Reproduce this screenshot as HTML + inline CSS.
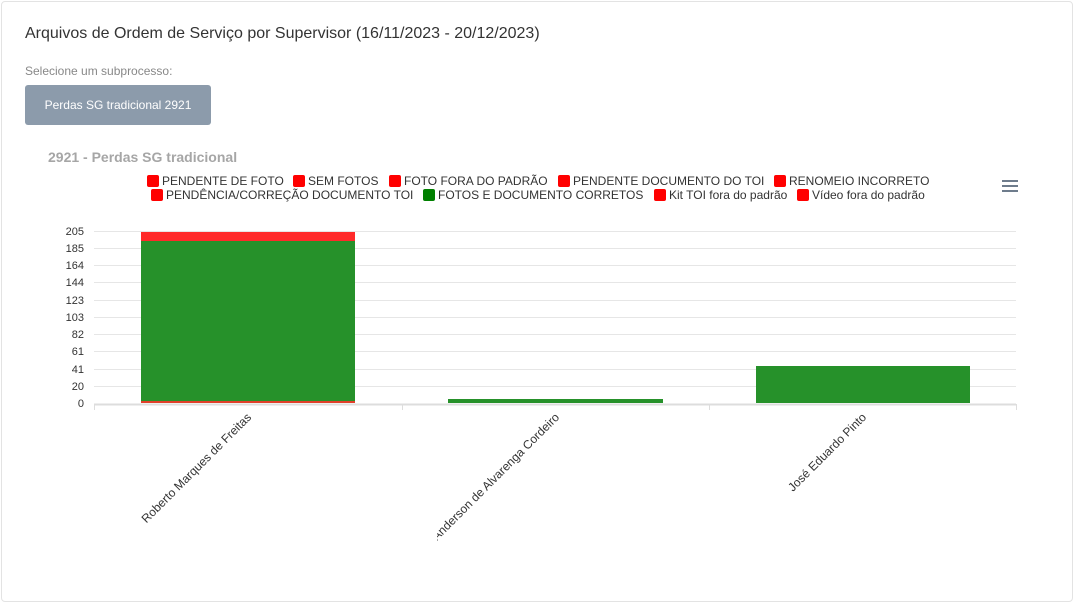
<!DOCTYPE html>
<html><head><meta charset="utf-8"><style>
body{margin:0;width:1076px;height:605px;background:#fff;font-family:"Liberation Sans",sans-serif;overflow:hidden}
.card{position:absolute;left:1px;top:1px;width:1072px;height:601px;border:1px solid #e3e3e3;border-radius:4px;box-sizing:border-box}
.t{position:absolute;left:25px;top:25px;font-size:16px;color:#333}
.s{position:absolute;left:25px;top:64px;font-size:12px;color:#888}
.b{position:absolute;left:25px;top:85px;width:186px;height:40px;background:#8c9bab;border-radius:3px;color:#fff;font-size:12px;line-height:40px;text-align:center}
svg{position:absolute;left:0;top:0}
</style></head><body>
<div class="card"></div>
<div class="t">Arquivos de Ordem de Serviço por Supervisor (16/11/2023 - 20/12/2023)</div>
<div class="s">Selecione um subprocesso:</div>
<div class="b">Perdas SG tradicional 2921</div>
<svg width="1076" height="605" font-family="Liberation Sans,sans-serif">
<defs><clipPath id="c2"><rect x="437" y="400" width="300" height="200"/></clipPath></defs>
<text x="48" y="162" font-size="14" font-weight="bold" fill="#a6a6a6">2921 - Perdas SG tradicional</text>
<g font-size="12" fill="#333">
<rect x="147" y="175" width="12" height="12" rx="2" fill="#f00"/><text x="162" y="185">PENDENTE DE FOTO</text>
<rect x="293" y="175" width="12" height="12" rx="2" fill="#f00"/><text x="308" y="185">SEM FOTOS</text>
<rect x="389" y="175" width="12" height="12" rx="2" fill="#f00"/><text x="404" y="185">FOTO FORA DO PADRÃO</text>
<rect x="558" y="175" width="12" height="12" rx="2" fill="#f00"/><text x="573" y="185">PENDENTE DOCUMENTO DO TOI</text>
<rect x="774" y="175" width="12" height="12" rx="2" fill="#f00"/><text x="789" y="185">RENOMEIO INCORRETO</text>
<rect x="151" y="189" width="12" height="12" rx="2" fill="#f00"/><text x="166" y="199">PENDÊNCIA/CORREÇÃO DOCUMENTO TOI</text>
<rect x="423" y="189" width="12" height="12" rx="2" fill="#008000"/><text x="438" y="199">FOTOS E DOCUMENTO CORRETOS</text>
<rect x="654" y="189" width="12" height="12" rx="2" fill="#f00"/><text x="669" y="199">Kit TOI fora do padrão</text>
<rect x="797" y="189" width="12" height="12" rx="2" fill="#f00"/><text x="812" y="199">Vídeo fora do padrão</text>
</g>
<g stroke="#6e7c8c" stroke-width="2"><line x1="1002" y1="181" x2="1018" y2="181"/><line x1="1002" y1="186" x2="1018" y2="186"/><line x1="1002" y1="191" x2="1018" y2="191"/></g>
<g stroke="#e6e6e6" stroke-width="1">
<line x1="94" y1="231.5" x2="1016" y2="231.5"/><line x1="94" y1="248.5" x2="1016" y2="248.5"/><line x1="94" y1="265.5" x2="1016" y2="265.5"/><line x1="94" y1="282.5" x2="1016" y2="282.5"/><line x1="94" y1="300.5" x2="1016" y2="300.5"/><line x1="94" y1="317.5" x2="1016" y2="317.5"/><line x1="94" y1="334.5" x2="1016" y2="334.5"/><line x1="94" y1="351.5" x2="1016" y2="351.5"/><line x1="94" y1="369.5" x2="1016" y2="369.5"/><line x1="94" y1="386.5" x2="1016" y2="386.5"/>
<line x1="94" y1="404.5" x2="1016" y2="404.5" stroke="#ddd" stroke-width="2"/>
<line x1="94.5" y1="404" x2="94.5" y2="410" stroke="#ddd"/><line x1="402.5" y1="404" x2="402.5" y2="410" stroke="#ddd"/><line x1="709.5" y1="404" x2="709.5" y2="410" stroke="#ddd"/><line x1="1016.5" y1="404" x2="1016.5" y2="410" stroke="#ddd"/>
</g>
<g font-size="11" fill="#333" text-anchor="end">
<text x="84" y="235">205</text><text x="84" y="252">185</text><text x="84" y="269">164</text><text x="84" y="286">144</text><text x="84" y="304">123</text><text x="84" y="321">103</text><text x="84" y="338">82</text><text x="84" y="355">61</text><text x="84" y="373">41</text><text x="84" y="390">20</text><text x="84" y="407">0</text>
</g>
<rect x="141" y="232" width="214" height="9" fill="#ff2a2a"/>
<rect x="141" y="241" width="214" height="162" fill="#26912a"/>
<rect x="141" y="401" width="214" height="2" fill="#e0402a"/>
<rect x="448" y="399" width="215" height="4" fill="#26912a"/>
<rect x="756" y="366" width="214" height="37" fill="#26912a"/>
<g font-size="12" fill="#333" text-anchor="end">
<text transform="translate(252,418) rotate(-45)">Roberto Marques de Freitas</text>
<g clip-path="url(#c2)"><text transform="translate(560,418) rotate(-45)">Anderson de Alvarenga Cordeiro</text></g>
<text transform="translate(867,418) rotate(-45)">José Eduardo Pinto</text>
</g>
</svg>
</body></html>
